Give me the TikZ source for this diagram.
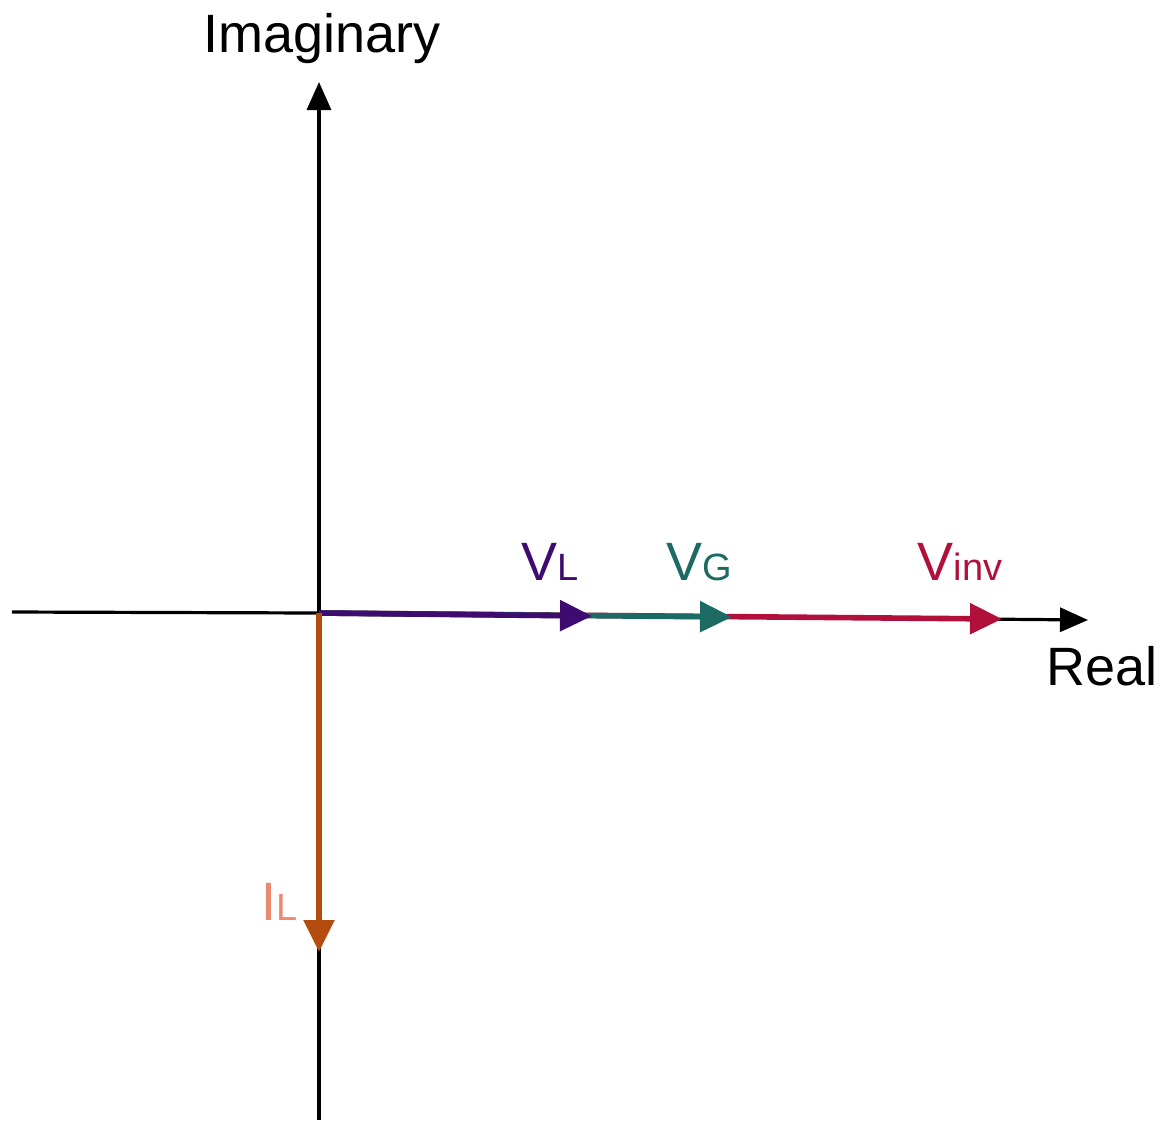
\documentclass[tikz,border=0pt]{standalone}
\usepackage{fontspec}
\setmainfont{Liberation Sans}
\usetikzlibrary{arrows.meta}
\definecolor{vlpurple}{HTML}{3E0B70}
\definecolor{vgteal}{HTML}{1B6A63}
\definecolor{vinvred}{HTML}{B0103A}
\definecolor{ilorange}{HTML}{B44C10}
\definecolor{illabel}{HTML}{EC8A70}
\tikzset{
    every picture/.style={line cap=butt,line join=miter},
    axisline/.style={draw=black,line width=1.6pt},
    axisarrow/.style={axisline,-{Triangle[length=14pt,width=12pt]}},
    phasor/.style={line width=2.8pt,-{Triangle[length=16pt,width=15pt]}},
    axislabel/.style={anchor=base,font=\fontsize{27}{32}\selectfont},
    phasorlabel/.style={anchor=base,font=\fontsize{27}{32}\selectfont}
}
\newcommand{\sublbl}[1]{{\fontsize{19}{22}\selectfont #1}}

\begin{document}
\begin{tikzpicture}[x=0.5pt,y=-0.5pt]
    \useasboundingbox (0,0) rectangle (1170,1130);
    % axes
    \coordinate (O) at (319,613);
    \coordinate (xl) at (12,612);
    \coordinate (xr) at (1088,620);
    \coordinate (yt) at (319,82);
    \coordinate (yb) at (319,1120);
    \draw[axisline] (xl)--(O);
    \draw[axisarrow] (O)--(xr);
    \draw[axisarrow] (yb)--(yt);
    \node[axislabel] (imag) at (322,52) {Imaginary};
    \node[axislabel] (real) at (1102,685) {Real};

    % phasors
    \coordinate (vinvend) at (1002,619);
    \coordinate (vgend) at (732,617);
    \coordinate (vlend) at (592,616);
    \coordinate (ilend) at (319,952);
    \draw[phasor,draw=vinvred,fill=vinvred] (O)--(vinvend);
    \draw[phasor,draw=vgteal,fill=vgteal] (O)--(vgend);
    \draw[phasor,draw=vlpurple,fill=vlpurple] (O)--(vlend);
    \draw[phasor,draw=ilorange,fill=ilorange] (O)--(ilend);

    \node[phasorlabel,text=vlpurple] (vl) at (550,580) {V\sublbl{L}};
    \node[phasorlabel,text=vgteal] (vg) at (699,580) {V\sublbl{G}};
    \node[phasorlabel,text=vinvred] (vinv) at (960,580) {V\sublbl{inv}};
    \node[phasorlabel,text=illabel] (il) at (280,920) {I\sublbl{L}};
\end{tikzpicture}
\end{document}
